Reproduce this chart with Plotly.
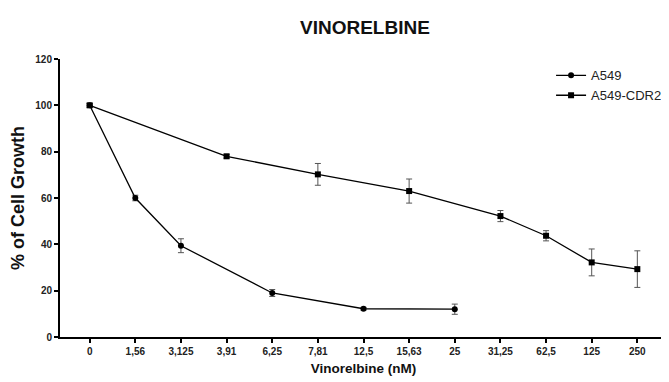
import plotly.graph_objects as go

categories = ["0", "1,56", "3,125", "3,91", "6,25", "7,81", "12,5", "15,63", "25", "31,25", "62,5", "125", "250"]

a549_y = [100, 60, 39.4, None, 19, None, 12.2, None, 12, None, None, None, None]
a549_err = [0.8, 1.2, 3.0, None, 1.5, None, 0.6, None, 2.2, None, None, None, None]

cdr2_y = [100, None, None, 78, None, 70.2, None, 63, None, 52.2, 43.7, 32.2, 29.3]
cdr2_err = [0.8, None, None, 0.8, None, 4.7, None, 5.2, None, 2.4, 2.2, 5.8, 7.9]

fig = go.Figure()

fig.add_trace(go.Scatter(
    x=categories, y=a549_y, name="A549", mode="lines+markers", connectgaps=True,
    line=dict(color="black", width=1.3),
    marker=dict(symbol="circle", size=6, color="black"),
    error_y=dict(type="data", array=a549_err, color="#555555", thickness=1, width=3),
))
fig.add_trace(go.Scatter(
    x=categories, y=cdr2_y, name="A549-CDR2", mode="lines+markers", connectgaps=True,
    line=dict(color="black", width=1.3),
    marker=dict(symbol="square", size=6, color="black"),
    error_y=dict(type="data", array=cdr2_err, color="#555555", thickness=1, width=3),
))

fig.update_layout(
    width=661, height=374,
    margin=dict(l=52, r=2, t=51, b=45),
    paper_bgcolor="white", plot_bgcolor="white",
    font=dict(family="Liberation Sans, Arial, sans-serif", color="black"),
    title=dict(text="<b>VINORELBINE</b>", x=0.54, xanchor="center", y=0.949, yanchor="middle",
               font=dict(size=19, color="#111111")),
    showlegend=True,
    legend=dict(x=0.809, y=0.995, xanchor="left", yanchor="top", bgcolor="rgba(0,0,0,0)",
                font=dict(size=13, color="#222222"), itemwidth=30, tracegroupgap=0),
    xaxis=dict(
        type="category", categoryorder="array", categoryarray=categories,
        range=[-0.65, 12.65],
        showline=True, linecolor="black", linewidth=2,
        ticks="outside", ticklen=4, tickwidth=1.5, tickcolor="black",
        tickfont=dict(size=10, color="#222222", weight="bold"),
        showgrid=False, zeroline=False,
        title=dict(text="<b>Vinorelbine (nM)</b>", font=dict(size=13.5, color="#111111"), standoff=8),
    ),
    yaxis=dict(
        range=[0, 120], tickvals=[0, 20, 40, 60, 80, 100, 120],
        showline=True, linecolor="black", linewidth=2,
        ticks="outside", ticklen=4, tickwidth=1.5, tickcolor="black",
        tickfont=dict(size=10, color="#222222", weight="bold"),
        showgrid=False, zeroline=False,
        title=dict(text="<b>% of Cell Growth</b>", font=dict(size=18, color="#111111"), standoff=8),
    ),
)

fig.write_html("out.html")
